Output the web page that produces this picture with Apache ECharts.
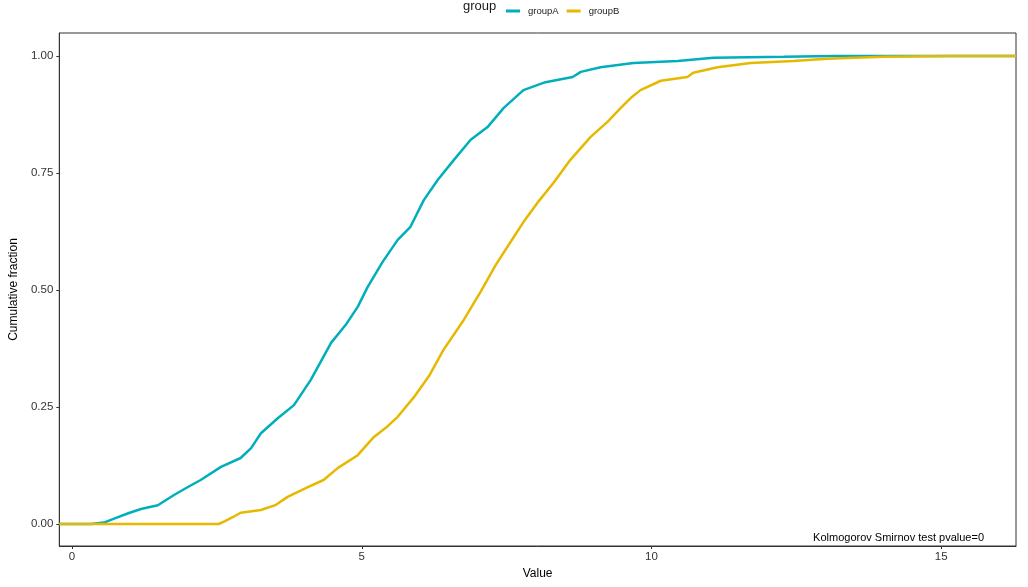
<!DOCTYPE html>
<html>
<head>
<meta charset="utf-8">
<script src="https://cdn.jsdelivr.net/npm/echarts@6/dist/echarts.min.js"></script>
<style>
html,body{margin:0;padding:0;background:#fff;}
#chart{width:1028px;height:587px;}
</style>
</head>
<body>
<div id="chart"></div>
<script>
// ECDF traces: [value, cumulative fraction]
const groupA = [
  [-0.22,0],[0.33,0],[0.55,0.003],[0.76,0.013],[0.97,0.023],[1.19,0.032],[1.48,0.040],
  [1.76,0.062],[2.00,0.079],[2.22,0.094],[2.57,0.122],[2.91,0.141],[3.09,0.162],[3.26,0.194],
  [3.55,0.226],[3.83,0.254],[4.12,0.308],[4.47,0.387],[4.72,0.425],[4.93,0.464],[5.10,0.506],
  [5.36,0.560],[5.62,0.607],[5.84,0.635],[6.07,0.692],[6.31,0.735],[6.59,0.778],[6.88,0.821],
  [7.17,0.848],[7.45,0.889],[7.79,0.927],[8.17,0.944],[8.64,0.955],[8.78,0.966],[9.12,0.976],
  [9.69,0.985],[10.45,0.989],[11.07,0.996],[12.28,0.998],[13.14,1.0],[16.29,1.0]
];
const groupB = [
  [-0.22,0],[2.53,0],[2.64,0.006],[2.78,0.015],[2.91,0.024],[3.26,0.030],[3.52,0.041],
  [3.72,0.058],[4.07,0.079],[4.34,0.094],[4.59,0.120],[4.93,0.147],[5.21,0.186],[5.41,0.205],
  [5.62,0.229],[5.90,0.271],[6.16,0.316],[6.41,0.372],[6.76,0.436],[7.05,0.496],[7.31,0.553],
  [7.57,0.603],[7.79,0.645],[8.03,0.686],[8.31,0.729],[8.60,0.778],[8.95,0.827],[9.24,0.859],
  [9.47,0.889],[9.64,0.910],[9.81,0.927],[10.16,0.947],[10.62,0.955],[10.72,0.964],[11.14,0.976],
  [11.71,0.985],[12.45,0.989],[13.03,0.994],[14.0,0.998],[15.16,1.0],[16.29,1.0]
];
const xTicks = [0, 5, 10, 15];
const yTicks = [0, 0.25, 0.5, 0.75, 1.0];
const seriesNames = ['groupA', 'groupB'];
const legendTitle = 'group';
const xTitle = 'Value';
const yTitle = 'Cumulative fraction';
const annotation = 'Kolmogorov Smirnov test pvalue=0';

const FONT = '"Liberation Sans", Arial, Helvetica, sans-serif';
const chart = echarts.init(document.getElementById('chart'), null, {renderer: 'canvas'});
const axisCommon = {
  axisLine: {show: true, onZero: false, lineStyle: {color: '#333', width: 1}},
  splitLine: {show: false},
};
chart.setOption({
  animation: false,
  backgroundColor: '#fff',
  textStyle: {fontFamily: FONT},
  grid: {left: 58, right: 12, top: 33, bottom: 41, show: true, borderColor: '#333', borderWidth: 1, backgroundColor: 'transparent'},
  legend: {
    left: 501, top: 1, icon: 'rect', itemWidth: 14, itemHeight: 3, itemGap: 8,
    data: seriesNames,
    textStyle: {fontSize: 9.5, color: '#1a1a1a', fontFamily: FONT, padding: [0, 0, 0, 3]}
  },
  xAxis: Object.assign({
    type: 'value', min: -0.22, max: 16.29,
    name: xTitle, nameLocation: 'middle', nameGap: 21,
    nameTextStyle: {fontSize: 12, color: '#000', fontFamily: FONT},
    axisTick: {show: true, length: 3, inside: false, customValues: xTicks, lineStyle: {color: '#333'}},
    axisLabel: {customValues: xTicks, fontSize: 11.5, color: '#333', margin: 5, fontFamily: FONT}
  }, axisCommon),
  yAxis: Object.assign({
    type: 'value', min: -0.047, max: 1.049,
    name: yTitle, nameLocation: 'middle', nameGap: 35,
    nameTextStyle: {fontSize: 12, color: '#000', fontFamily: FONT},
    axisTick: {show: true, length: 3, inside: false, customValues: yTicks, lineStyle: {color: '#333'}},
    axisLabel: {customValues: yTicks, fontSize: 11.5, color: '#333', margin: 6, fontFamily: FONT,
      formatter: v => v.toFixed(2)}
  }, axisCommon),
  graphic: [
    {type: 'text', left: 463, top: 0, style: {text: legendTitle, fontSize: 13, fill: '#1a1a1a', fontFamily: FONT}},
    {type: 'text', right: 44, top: 532, style: {text: annotation, fontSize: 11, fill: '#000', fontFamily: FONT}}
  ],
  series: [
    {name: seriesNames[0], type: 'line', data: groupA, showSymbol: false, smooth: false,
     lineStyle: {color: '#00AFBB', width: 2.5}, itemStyle: {color: '#00AFBB'}, z: 2},
    {name: seriesNames[1], type: 'line', data: groupB, showSymbol: false, smooth: false,
     lineStyle: {color: '#E7B800', width: 2.5}, itemStyle: {color: '#E7B800'}, z: 3}
  ]
});
</script>
</body>
</html>
